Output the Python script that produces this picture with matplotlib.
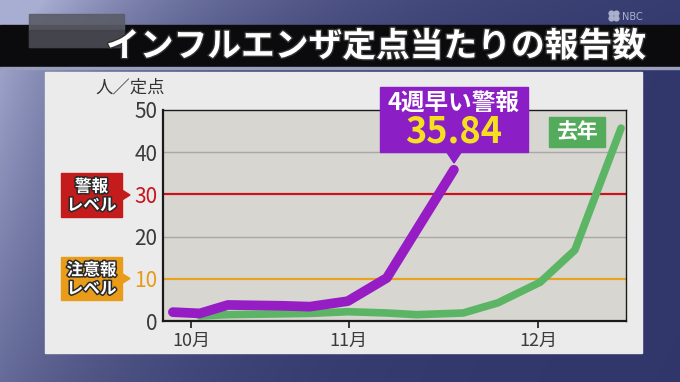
import numpy as np
import matplotlib
matplotlib.use("Agg")
import matplotlib.pyplot as plt
from matplotlib.patches import Rectangle, Polygon
import matplotlib.patheffects as pe

plt.rcParams['font.family'] = ['Noto Sans CJK JP', 'DejaVu Sans']

# ---------------- data ----------------
title = "インフルエンザ定点当たりの報告数"
unit_label = "人／定点"
# x in approximate days from Oct 1
this_year_x = [-3.3, 1.6, 6.7, 11.6, 16.7, 21.6, 28.5, 35.6, 47.8]
this_year_y = [2.1, 1.8, 3.8, 3.7, 3.6, 3.4, 4.7, 10.2, 35.84]
last_year_x = [1.6, 6.7, 11.6, 16.7, 21.6, 28.5, 35.6, 41.0, 49.5, 55.8, 63.5, 69.8, 78.2]
last_year_y = [1.2, 1.5, 1.6, 1.7, 1.8, 2.2, 1.9, 1.5, 1.9, 4.3, 9.2, 16.8, 45.7]
month_ticks = [0, 28.7, 63.1]
month_labels = ["10月", "11月", "12月"]
y_ticks = [0, 10, 20, 30, 40, 50]
alert_level = 30
caution_level = 10
annot_title = "4週早い警報"
annot_value = "35.84"
last_year_label = "去年"
alert_label = "警報\nレベル"
caution_label = "注意報\nレベル"

W, H = 680, 382
fig = plt.figure(figsize=(W / 100, H / 100), dpi=100)

# ---------------- background (pixel coords) ----------------
bg = fig.add_axes([0, 0, 1, 1], zorder=0)
bg.set_xlim(0, W)
bg.set_ylim(H, 0)
bg.axis('off')
navy = np.array([0x30, 0x35, 0x6a]) / 255
light = np.array([0xa8, 0xae, 0xd2]) / 255
xx, yy = np.meshgrid(np.arange(W), np.arange(H))
f = np.exp(-xx / 170.0) * (1 - 0.55 * yy / H)
f = f + 0.25 * np.exp(-xx / 400.0) * (yy < 70) * (1 - yy / 70)
f = np.clip(f, 0, 1)[..., None]
img = navy + f * (light - navy)
bg.imshow(img, extent=[0, W, H, 0], aspect='auto', zorder=0)

# title band
bg.add_patch(Rectangle((0, 25), W, 42, color='#0b0b0d', zorder=1))
bg.add_patch(Rectangle((0, 67), W, 2, color='#9aa0bc', zorder=1))
# blurred logo box
bg.add_patch(Rectangle((29, 14), 95, 33, color='#5a5c66', alpha=0.9, zorder=2))
bg.add_patch(Rectangle((29, 30), 95, 17, color='#3a3b42', alpha=0.6, zorder=2))
bg.text(376, 46, title, color='white', fontsize=24.3, fontweight='bold',
        ha='center', va='center', zorder=3,
        path_effects=[pe.withStroke(linewidth=2, foreground='#333333')])
# NBC logo
for dx, dy in [(-2.5, -2.5), (2.5, -2.5), (-2.5, 2.5), (2.5, 2.5)]:
    bg.add_patch(plt.Circle((614 + dx, 16 + dy), 2.4, color='#aab0cc', zorder=2))
bg.text(622, 16.5, "NBC", color='#aab0cc', fontsize=7, ha='left', va='center',
        family=['DejaVu Sans'])

# light panel
bg.add_patch(Rectangle((45, 72), 597, 281, color='#ebebeb', zorder=1))
bg.text(130, 87, unit_label, color='#333333', fontsize=12.5, ha='center', va='center', zorder=3)

# ---------------- main chart ----------------
x0, x1, ytop, ybot = 163, 626, 110, 321
ax = fig.add_axes([x0 / W, 1 - ybot / H, (x1 - x0) / W, (ybot - ytop) / H], zorder=1)
ax.set_facecolor('#d7d6d1')
ax.set_xlim(-5.1, 79.1)
ax.set_ylim(0, 50)

for yv in [20, 40]:
    ax.axhline(yv, color='#a9a8a6', lw=1.0, zorder=1)
ax.axhline(alert_level, color='#c8141c', lw=1.6, zorder=1)
ax.axhline(caution_level, color='#eaa020', lw=1.6, zorder=1)

ax.plot(last_year_x, last_year_y, color='#5cb564', lw=5.5,
        solid_capstyle='round', solid_joinstyle='round', zorder=2)
ax.plot(this_year_x, this_year_y, color='#961cc4', lw=7,
        solid_capstyle='round', solid_joinstyle='round', zorder=3)

for s in ax.spines.values():
    s.set_color('#1a1a1a')
    s.set_linewidth(1.0)
ax.spines['left'].set_linewidth(1.6)
ax.spines['bottom'].set_linewidth(1.6)

ax.set_yticks(y_ticks)
ax.set_yticklabels([str(v) for v in y_ticks])
ax.tick_params(axis='y', length=0, pad=4, labelsize=15, labelcolor='#3a3a3a')
for lab, v in zip(ax.get_yticklabels(), y_ticks):
    if v == alert_level:
        lab.set_color('#c8141c')
    elif v == caution_level:
        lab.set_color('#e89a1a')
ax.set_xticks(month_ticks)
ax.set_xticklabels(month_labels)
ax.tick_params(axis='x', length=5, width=1.2, color='#1a1a1a', pad=3,
               labelsize=13, labelcolor='#3a3a3a')

# ---------------- overlay boxes ----------------
ov = fig.add_axes([0, 0, 1, 1], zorder=3)
ov.set_xlim(0, W)
ov.set_ylim(H, 0)
ov.axis('off')
ov.patch.set_alpha(0)

stroke = [pe.withStroke(linewidth=2.2, foreground='#2a2a2a')]

def level_box(ytop_, ybot_, color, text):
    ov.add_patch(Rectangle((61, ytop_), 61, ybot_ - ytop_, color=color))
    ym = (ytop_ + ybot_) / 2
    ov.add_patch(Polygon([[122, ym - 5], [130, ym], [122, ym + 5]], closed=True, color=color))
    ov.text(91.5, ym + 1, text, color='white', fontsize=12, fontweight='bold',
            ha='center', va='center', linespacing=1.05, path_effects=stroke)

level_box(173, 217, '#c41c1c', alert_label)
level_box(257, 300, '#e89c1a', caution_label)

# purple annotation
ov.add_patch(Rectangle((380, 87), 148, 65, color='#8c1ec6'))
ov.add_patch(Polygon([[446, 151], [462, 151], [454, 163]], closed=True, color='#8c1ec6'))
ov.text(454, 103, annot_title, color='white', fontsize=17, fontweight='bold',
        ha='center', va='center')
ov.text(454, 132, annot_value, color='#f4e01e', fontsize=26, fontweight='bold',
        ha='center', va='center')

# last year label
ov.add_patch(Rectangle((549, 117), 56, 30, color='#55ab5c'))
ov.text(577, 132, last_year_label, color='white', fontsize=15, fontweight='bold',
        ha='center', va='center')

fig.savefig("out.png", dpi=100)
